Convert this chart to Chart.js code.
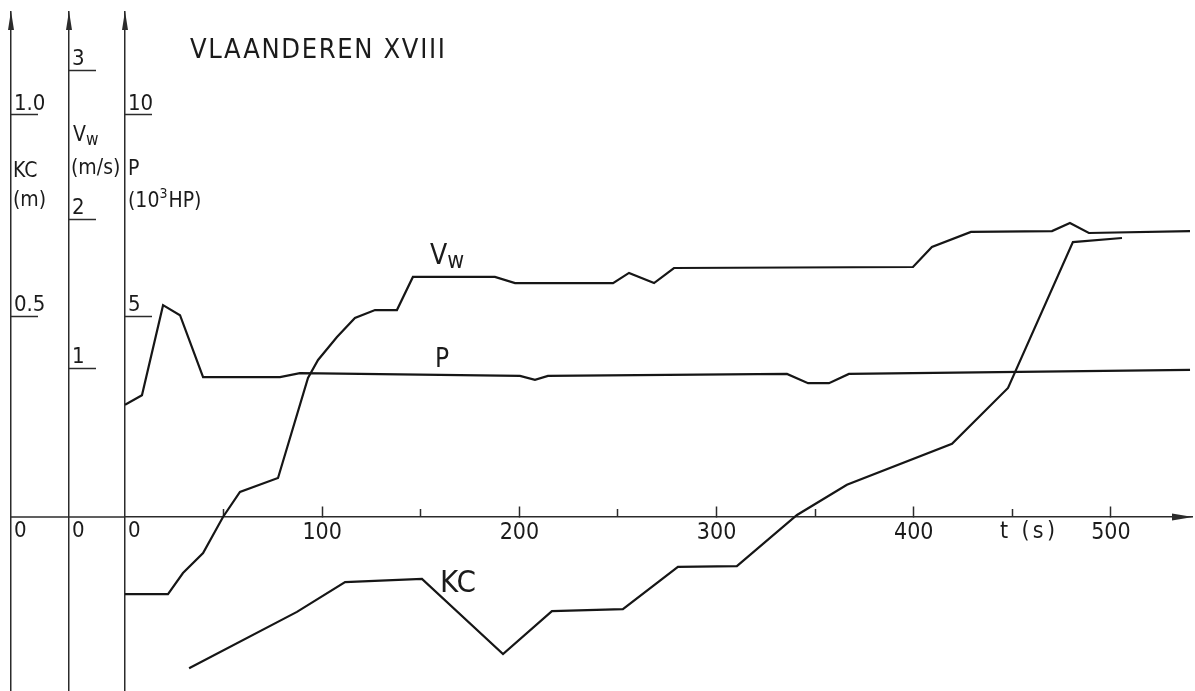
<!DOCTYPE html>
<html>
<head>
<meta charset="utf-8">
<script src="https://cdn.jsdelivr.net/npm/chart.js@4.4.1/dist/chart.umd.min.js"></script>
<style>
  html, body { margin: 0; padding: 0; background: #ffffff; }
  #wrap { width: 1195px; height: 691px; }
  canvas { display: block; }
</style>
</head>
<body>
<div id="wrap"><canvas id="c" width="1195" height="691"></canvas></div>
<script>
// ---------------- data ----------------
const chartTitle = 'VLAANDEREN XVIII';

// P (10^3 HP) against t (s)
const pTime   = [0, 8.6, 19.3, 27.9, 39.6, 78.6, 88.7, 200.3, 207.9, 214.5, 335.7, 346.4, 357.0, 367.1, 540.1];
const pValues = [2.79, 3.03, 5.27, 5.02, 3.48, 3.48, 3.58, 3.51, 3.41, 3.51, 3.56, 3.33, 3.33, 3.56, 3.66];

// Vw (m/s) against t (s)
const vwTime   = [0, 21.8, 29.4, 39.6, 49.7, 58.3, 77.6, 92.8, 97.9, 107.5, 116.6, 126.8, 137.9, 146.0, 187.6, 197.8,
                  247.5, 255.6, 268.3, 278.4, 399.6, 409.2, 429.0, 470.1, 479.2, 488.8, 540.1];
const vwValues = [-0.517, -0.517, -0.376, -0.242, 0.0, 0.168, 0.262, 0.933, 1.054, 1.208, 1.336, 1.389, 1.389, 1.611, 1.611, 1.570,
                  1.570, 1.638, 1.570, 1.671, 1.678, 1.812, 1.913, 1.919, 1.973, 1.906, 1.919];

// KC (m) against t (s)
const kcTime   = [32.5, 87.2, 111.6, 150.6, 191.7, 216.5, 252.5, 280.4, 310.3, 340.8, 366.1, 419.4, 447.8, 480.7, 505.6];
const kcValues = [-0.376, -0.236, -0.162, -0.154, -0.341, -0.234, -0.229, -0.124, -0.122, 0.005, 0.080, 0.182, 0.321, 0.684, 0.694];

// tick labels
const xMajorTicks  = [100, 200, 300, 400, 500];
const xMajorLabels = ['100', '200', '300', '400', '500'];
const xMinorTicks  = [50, 150, 250, 350, 450];
const kcTicks  = [0, 0.5, 1.0];
const kcLabels = ['0', '0.5', '1.0'];
const vwTicks  = [0, 1, 2, 3];
const vwLabels = ['0', '1', '2', '3'];
const pTicks   = [0, 5, 10];
const pLabels  = ['0', '5', '10'];

// ---------------- styling ----------------
const FONT = "'Liberation Sans Narrow','DejaVu Sans Condensed','Roboto Condensed','Liberation Sans',sans-serif";
const INK = '#1b1b1b';
const AXIS = '#2b2b2b';
const LINE = '#161616';

const toXY = (t, v) => t.map((x, i) => ({ x: x, y: v[i] }));

function yAxis(weight, width, tickArr, labelArr, min, max) {
  return {
    type: 'linear', axis: 'y', position: 'left', weight: weight, min: min, max: max,
    afterBuildTicks: s => { s.ticks = tickArr.map(v => ({ value: v })); },
    afterFit: s => { s.width = width; s.paddingTop = 0; s.paddingBottom = 0; s.paddingLeft = 0; s.paddingRight = 0; },
    border: { display: true, color: AXIS, width: 1.5 },
    grid: {
      display: true, drawOnChartArea: false, drawTicks: true, tickLength: -27, tickWidth: 1.5,
      tickColor: ctx => (ctx.tick && ctx.tick.value === 0) ? 'rgba(0,0,0,0)' : AXIS
    },
    ticks: {
      mirror: true, padding: 3, labelOffset: -11, color: INK,
      font: { family: FONT, size: 22, lineHeight: 1.15 },
      callback: (v, i) => (tickArr[i] === 0 ? ['', '', labelArr[i]] : labelArr[i])
    }
  };
}

function fitText(ctx, s, x, y, size, target) {
  ctx.font = size + 'px ' + FONT;
  ctx.letterSpacing = '0px';
  if (target) {
    const w = ctx.measureText(s).width;
    const sp = (target - w) / Math.max(1, s.length - 1);
    ctx.letterSpacing = sp.toFixed(2) + 'px';
  }
  ctx.fillText(s, x, y);
  const w2 = ctx.measureText(s).width;
  ctx.letterSpacing = '0px';
  return w2;
}

const deco = {
  id: 'deco',
  afterDraw(chart) {
    const ctx = chart.ctx;
    const sx = chart.scales.x, sv = chart.scales.vw, sp = chart.scales.p, sk = chart.scales.kc;
    const top = chart.chartArea.top;
    const y0 = sv.getPixelForValue(0);
    ctx.save();
    ctx.strokeStyle = AXIS;
    ctx.fillStyle = AXIS;
    ctx.lineWidth = 1.5;
    // part of the time axis left of the P axis
    ctx.beginPath(); ctx.moveTo(sk.right, y0); ctx.lineTo(sx.left, y0); ctx.stroke();
    // arrow heads on the vertical axes
    [sk.right, sv.right, sp.right].forEach(x => {
      ctx.beginPath();
      ctx.moveTo(x, top - 1);
      ctx.lineTo(x - 3, top + 18);
      ctx.lineTo(x + 3, top + 18);
      ctx.closePath(); ctx.fill();
    });
    // arrow head on the time axis
    ctx.beginPath();
    ctx.moveTo(sx.right + 1, y0);
    ctx.lineTo(sx.right - 20, y0 - 3.5);
    ctx.lineTo(sx.right - 20, y0 + 3.5);
    ctx.closePath(); ctx.fill();

    // texts
    ctx.fillStyle = INK;
    ctx.textBaseline = 'alphabetic';
    ctx.textAlign = 'left';
    fitText(ctx, chartTitle, 190, 58, 27, 255);

    // axis titles
    fitText(ctx, 'KC', 13, 177, 21);
    fitText(ctx, '(m)', 13, 206, 21);
    let w = fitText(ctx, 'V', 73, 141, 21);
    fitText(ctx, 'w', 73 + w, 145, 17);
    fitText(ctx, '(m/s)', 71, 174, 21);
    fitText(ctx, 'P', 128, 175, 21);
    w = fitText(ctx, '(10', 128, 207, 21);
    const w3 = fitText(ctx, '3', 128 + w, 198, 14);
    fitText(ctx, 'HP)', 128 + w + w3 + 1, 207, 21);

    // curve labels
    w = fitText(ctx, 'V', 430, 264, 28);
    fitText(ctx, 'w', 430 + w, 268, 23);
    fitText(ctx, 'P', 435, 367, 26);
    fitText(ctx, 'KC', 440, 592, 31);
    fitText(ctx, 't (s)', 1000, 538, 23, 55);
    ctx.restore();
  }
};

const lineDs = (label, t, v, yId) => ({
  label: label, data: toXY(t, v), xAxisID: 'x', yAxisID: yId,
  borderColor: LINE, borderWidth: 2.2, pointRadius: 0, tension: 0, fill: false
});

new Chart(document.getElementById('c'), {
  type: 'line',
  data: {
    datasets: [
      lineDs('P', pTime, pValues, 'p'),
      lineDs('Vw', vwTime, vwValues, 'vw'),
      lineDs('KC', kcTime, kcValues, 'kc')
    ]
  },
  options: {
    responsive: false,
    animation: false,
    events: [],
    layout: { padding: { left: 0, right: 3, top: 12, bottom: 0 } },
    plugins: { legend: { display: false }, tooltip: { enabled: false }, title: { display: false } },
    scales: {
      kc: yAxis(3, 11, kcTicks, kcLabels, -0.4328, 1.2562),
      vw: yAxis(2, 58, vwTicks, vwLabels, -1.1678, 3.3893),
      p:  yAxis(1, 56, pTicks, pLabels, -4.328, 12.562),
      x: {
        type: 'linear', axis: 'x', position: { vw: 0 }, min: 0, max: 541.1,
        afterBuildTicks: s => { s.ticks = xMajorTicks.map(v => ({ value: v })); },
        border: { display: true, color: AXIS, width: 1.5 },
        grid: { display: true, drawOnChartArea: false, drawTicks: true, tickLength: -11, tickWidth: 1.5, tickColor: AXIS },
        ticks: {
          padding: 14, maxRotation: 0, minRotation: 0, autoSkip: false, color: INK,
          font: { family: FONT, size: 23, lineHeight: 1.15 },
          callback: (v, i) => xMajorLabels[i]
        }
      },
      x2: {
        type: 'linear', axis: 'x', position: { vw: 0 }, min: 0, max: 541.1,
        afterBuildTicks: s => { s.ticks = xMinorTicks.map(v => ({ value: v })); },
        border: { display: false },
        grid: { display: true, drawOnChartArea: false, drawTicks: true, tickLength: -8, tickWidth: 1.5, tickColor: AXIS },
        ticks: { display: false }
      }
    }
  },
  plugins: [deco]
});
</script>
</body>
</html>
